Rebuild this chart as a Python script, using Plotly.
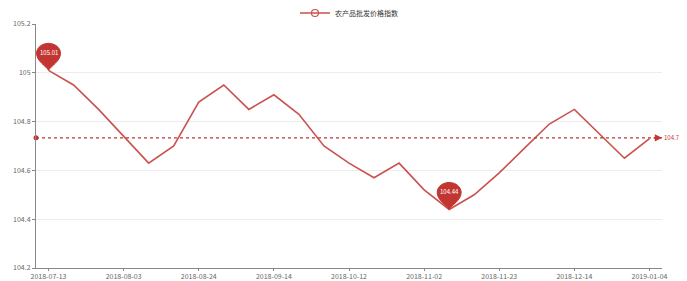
import plotly.graph_objects as go

dates = ["2018-07-13", "2018-07-20", "2018-07-27", "2018-08-03", "2018-08-10", "2018-08-17",
         "2018-08-24", "2018-08-31", "2018-09-07", "2018-09-14", "2018-09-21", "2018-09-28",
         "2018-10-12", "2018-10-19", "2018-10-26", "2018-11-02", "2018-11-09", "2018-11-16",
         "2018-11-23", "2018-11-30", "2018-12-07", "2018-12-14", "2018-12-21", "2018-12-28",
         "2019-01-04"]
values = [105.01, 104.95, 104.85, 104.74, 104.63, 104.70, 104.88, 104.95, 104.85, 104.91,
          104.83, 104.70, 104.63, 104.57, 104.63, 104.52, 104.44, 104.50, 104.59, 104.69,
          104.79, 104.85, 104.75, 104.65, 104.73]
series_name = "农产品批发价格指数"
y_ticks = [104.2, 104.4, 104.6, 104.8, 105.0, 105.2]

LINE = "#c9524e"
PIN = "#c23531"
FONT = "Noto Sans CJK SC, sans-serif"

avg = sum(values) / len(values)
i_max = values.index(max(values))
i_min = values.index(min(values))

fig = go.Figure()
fig.add_trace(go.Scatter(x=dates, y=values, mode="lines", line=dict(color=LINE, width=1.6),
                         showlegend=False))
fig.add_trace(go.Scatter(x=[None], y=[None], mode="lines+markers", name=series_name,
                         line=dict(color=LINE, width=1.6),
                         marker=dict(symbol="circle-open", size=7, color=LINE, line=dict(width=1.2))))

# average mark line
fig.add_shape(type="line", xref="paper", yref="y", x0=0, x1=1, y0=avg, y1=avg,
              line=dict(color=PIN, width=1.2, dash="dot"))
fig.add_trace(go.Scatter(x=[0], y=[avg], mode="markers", showlegend=False,
                         marker=dict(symbol="circle", size=5, color=PIN), cliponaxis=False,
                         xaxis="x2"))
fig.add_annotation(xref="paper", yref="y", x=1, y=avg, text="", showarrow=True,
                   ax=-10, ay=0, arrowhead=2, arrowsize=1.2, arrowwidth=1.2, arrowcolor=PIN)
fig.add_annotation(xref="paper", yref="y", x=1, y=avg, text=f"{avg:.2f}", showarrow=False,
                   xanchor="left", xshift=0, font=dict(size=6, color=PIN))

# pins for max/min
pin_path = ("M 0 0 C -2 4, -12 9, -12 17 C -12 23, -6 27, 0 27 "
            "C 6 27, 12 23, 12 17 C 12 9, 2 4, 0 0 Z")
for i in (i_max, i_min):
    fig.add_shape(type="path", xref="x", yref="y", xsizemode="pixel", ysizemode="pixel",
                  xanchor=dates[i], yanchor=values[i], path=pin_path,
                  fillcolor=PIN, line=dict(color=PIN, width=1))
    fig.add_annotation(xref="x", yref="y", x=dates[i], y=values[i], text=f"{values[i]:g}",
                       showarrow=False, yshift=18, font=dict(size=6, color="white"))

fig.update_layout(
    width=679, height=273,
    margin=dict(l=28, r=25, t=16, b=13, autoexpand=False),
    paper_bgcolor="white", plot_bgcolor="white",
    font=dict(family=FONT, size=8, color="#555"),
    legend=dict(orientation="h", x=0.5, xanchor="center", y=1.045, yanchor="middle",
                font=dict(size=7, color="#333"), bgcolor="rgba(0,0,0,0)",
                borderwidth=0, itemwidth=30),
    xaxis=dict(type="category", range=[-0.5, len(dates) - 0.5], tickvals=dates[::3],
               showgrid=False, showline=True, linecolor="#888", linewidth=1,
               ticks="outside", ticklen=2, tickcolor="#888", tickfont=dict(size=7, color="#666")),
    xaxis2=dict(range=[0, 1], overlaying="x", visible=False),
    yaxis=dict(range=[104.2, 105.2], tickvals=y_ticks, ticktext=[f"{v:g}" for v in y_ticks],
               showgrid=True, gridcolor="#ececec", showline=True, linecolor="#888",
               linewidth=1, ticks="outside", ticklen=3, tickcolor="#888", zeroline=False,
               tickfont=dict(size=7, color="#666")),
)

fig.write_html("out.html")
